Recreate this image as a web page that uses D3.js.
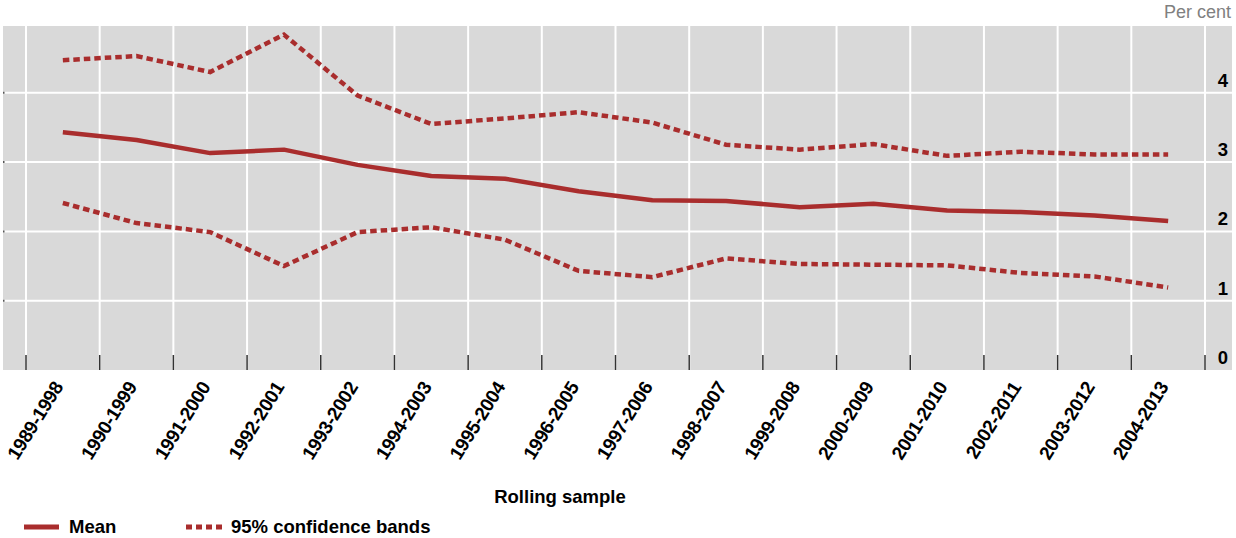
<!DOCTYPE html>
<html>
<head>
<meta charset="utf-8">
<script src="https://cdn.jsdelivr.net/npm/d3@7"></script>
<style>
  html, body { margin: 0; padding: 0; background: #fff; }
  svg { display: block; }
  text { font-family: "Liberation Sans", Arial, sans-serif; }
</style>
</head>
<body>
<svg id="chart" width="1236" height="538"></svg>
<script>
const categories = ["1989-1998","1990-1999","1991-2000","1992-2001","1993-2002","1994-2003","1995-2004","1996-2005","1997-2006","1998-2007","1999-2008","2000-2009","2001-2010","2002-2011","2003-2012","2004-2013"];
const meanValues  = [3.43, 3.32, 3.13, 3.18, 2.96, 2.80, 2.76, 2.58, 2.45, 2.44, 2.35, 2.40, 2.30, 2.28, 2.23, 2.15];
const upperValues = [4.47, 4.53, 4.30, 4.84, 3.96, 3.55, 3.63, 3.72, 3.57, 3.25, 3.18, 3.26, 3.09, 3.15, 3.11, 3.11];
const lowerValues = [2.41, 2.12, 1.99, 1.50, 1.99, 2.06, 1.88, 1.43, 1.34, 1.61, 1.53, 1.52, 1.51, 1.40, 1.35, 1.19];
const yTicks = [0, 1, 2, 3, 4];
const yUnit = "Per cent";
const xTitle = "Rolling sample";
const legendLabels = ["Mean", "95% confidence bands"];

const RED = "#a92d2d";
const svg = d3.select("#chart");

const plot = { left: 3, right: 1232, top: 26, bottom: 370 };
const x = d3.scaleBand().domain(categories).range([26, 1205]).paddingInner(0).paddingOuter(0);
const y = d3.scaleLinear().domain([0, 5]).range([370, 23.5]);

// background
svg.append("rect")
  .attr("x", plot.left).attr("y", plot.top)
  .attr("width", plot.right - plot.left).attr("height", plot.bottom - plot.top)
  .attr("fill", "#d9d9d9");

// horizontal gridlines
svg.append("g").selectAll("line").data(yTicks.filter(d => d > 0)).join("line")
  .attr("x1", plot.left).attr("x2", plot.right)
  .attr("y1", d => y(d)).attr("y2", d => y(d))
  .attr("stroke", "#fff").attr("stroke-width", 2);

// small left ticks
svg.append("g").selectAll("line").data(yTicks.filter(d => d > 0)).join("line")
  .attr("x1", plot.left).attr("x2", plot.left + 1.5)
  .attr("y1", d => y(d)).attr("y2", d => y(d))
  .attr("stroke", "#555").attr("stroke-width", 2);

// vertical gridlines at band boundaries
const bounds = categories.map(c => x(c)).concat([x(categories[categories.length - 1]) + x.bandwidth()]);
svg.append("g").selectAll("line").data(bounds).join("line")
  .attr("x1", d => d).attr("x2", d => d)
  .attr("y1", plot.top).attr("y2", plot.bottom)
  .attr("stroke", "#fff").attr("stroke-width", 2);

// bottom tick marks
svg.append("g").selectAll("line").data(bounds).join("line")
  .attr("x1", d => d).attr("x2", d => d)
  .attr("y1", plot.bottom - 15).attr("y2", plot.bottom)
  .attr("stroke", "#333").attr("stroke-width", 1.5);

// y tick labels (right)
svg.append("g").selectAll("text").data(yTicks).join("text")
  .attr("x", 1228).attr("y", d => y(d) - 6)
  .attr("text-anchor", "end")
  .attr("font-size", 18.5).attr("font-weight", "bold").attr("fill", "#000")
  .text(d => d);

// unit label
svg.append("text")
  .attr("x", 1231).attr("y", 18)
  .attr("text-anchor", "end")
  .attr("font-family", "'Open Sans', 'Noto Sans', sans-serif")
  .attr("font-size", 18).attr("fill", "#808080")
  .text(yUnit);

// x tick labels
svg.append("g").selectAll("text").data(categories).join("text")
  .attr("transform", d => `translate(${x(d) + x.bandwidth() / 2 + 1},387) rotate(-58)`)
  .attr("text-anchor", "end")
  .attr("font-size", 19).attr("font-weight", "bold").attr("fill", "#000")
  .attr("letter-spacing", -0.4)
  .text(d => d);

// x title
svg.append("text")
  .attr("x", 560).attr("y", 503)
  .attr("text-anchor", "middle")
  .attr("font-size", 18.5).attr("font-weight", "bold").attr("fill", "#000")
  .text(xTitle);

// lines
const line = d3.line()
  .x((d, i) => x(categories[i]) + x.bandwidth() / 2)
  .y(d => y(d));

svg.append("path").datum(upperValues)
  .attr("d", line).attr("fill", "none")
  .attr("stroke", RED).attr("stroke-width", 4.5)
  .attr("stroke-dasharray", "6.5,4");

svg.append("path").datum(lowerValues)
  .attr("d", line).attr("fill", "none")
  .attr("stroke", RED).attr("stroke-width", 4.5)
  .attr("stroke-dasharray", "6.5,4");

svg.append("path").datum(meanValues)
  .attr("d", line).attr("fill", "none")
  .attr("stroke", RED).attr("stroke-width", 4.5)
  .attr("stroke-linejoin", "round");

// legend
const lg = svg.append("g");
lg.append("line").attr("x1", 24).attr("x2", 59).attr("y1", 527).attr("y2", 527)
  .attr("stroke", RED).attr("stroke-width", 5);
lg.append("text").attr("x", 69).attr("y", 533)
  .attr("font-size", 18.5).attr("font-weight", "bold").text(legendLabels[0]);
lg.append("line").attr("x1", 186).attr("x2", 222).attr("y1", 527).attr("y2", 527)
  .attr("stroke", RED).attr("stroke-width", 5).attr("stroke-dasharray", "6,4");
lg.append("text").attr("x", 231).attr("y", 533)
  .attr("font-size", 18.5).attr("font-weight", "bold").text(legendLabels[1]);
</script>
</body>
</html>
